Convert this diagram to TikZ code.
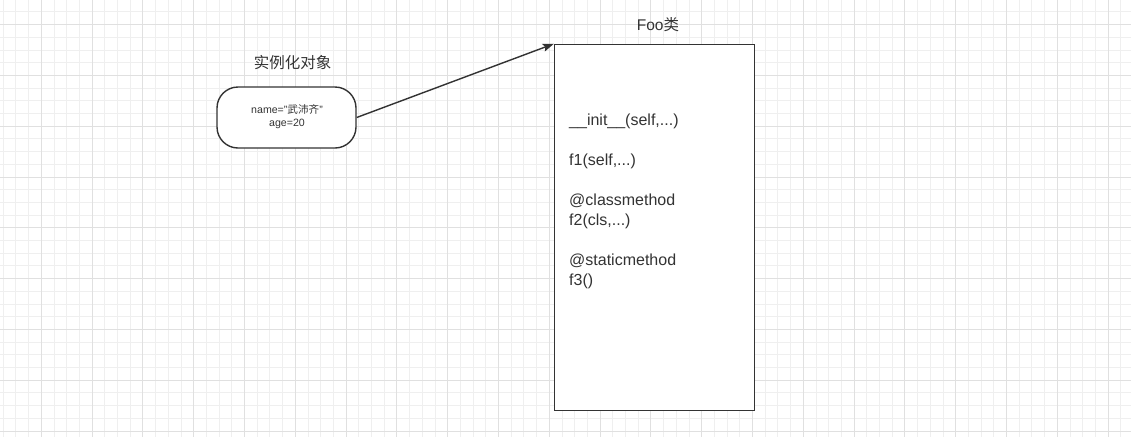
\documentclass[tikz,border=0pt]{standalone}
\usepackage{fontspec}
\setmainfont{Liberation Sans}
\newfontfamily\cjk{Noto Sans CJK SC}
\usetikzlibrary{arrows.meta}
\definecolor{minorgrid}{HTML}{EFEFEF}
\definecolor{majorgrid}{HTML}{E0E0E0}
\definecolor{ink}{HTML}{333333}
\tikzset{
  minorline/.style={draw=minorgrid, line width=1pt},
  majorline/.style={draw=majorgrid, line width=1pt},
  shapeline/.style={draw=ink, line width=1.4pt, fill=white},
  bigtext/.style={font=\fontsize{15.5}{18}\selectfont, text=ink, inner sep=0pt},
  smalltext/.style={font=\fontsize{10.6}{13}\selectfont, text=ink, align=center, inner sep=0pt},
  methodtext/.style={font=\fontsize{16}{18}\selectfont, text=ink, inner sep=0pt, anchor=base west},
  connector/.style={draw=ink, line width=1.4pt, -{Stealth[length=11pt, width=8pt, inset=2pt]}}
}
\begin{document}
\begin{tikzpicture}[x=1pt, y=-1pt]
\useasboundingbox (0,0) rectangle (1131,437);
\fill[white] (0,0) rectangle (1131,437);
% grid
\foreach \i in {0,...,88} \draw[minorline] ({3.2+12.7*\i},0) -- ++(0,437);
\foreach \j in {0,...,33} \draw[minorline] (0,{11.9+12.7*\j}) -- ++(1131,0);
\foreach \i in {0,...,21} \draw[majorline] ({41.3+50.8*\i},0) -- ++(0,437);
\foreach \j in {0,...,8} \draw[majorline] (0,{24.6+50.8*\j}) -- ++(1131,0);
% instance object
\node[shapeline, rounded corners=21pt, minimum width=139pt, minimum height=61pt] (inst) at (286.5,117.5) {};
\node[smalltext] (insttext) at (287,117) {name="{\cjk 武沛齐}"\\age=20};
\node[bigtext] (insttitle) at (292.5,63) {\cjk 实例化对象};
% class box
\node[shapeline, minimum width=200pt, minimum height=366pt] (cls) at (654.5,227.5) {};
\node[bigtext] (clstitle) at (658,24.5) {Foo{\cjk 类}};
\node[methodtext] (m1) at (569,125.5) {\_\_init\_\_(self,...)};
\node[methodtext] (m2) at (569,165.5) {f1(self,...)};
\node[methodtext] (m3) at (569,205.5) {@classmethod};
\node[methodtext] (m4) at (569,225.5) {f2(cls,...)};
\node[methodtext] (m5) at (569,265.5) {@staticmethod};
\node[methodtext] (m6) at (569,285.5) {f3()};
% connector
\draw[connector] (inst.east) -- (cls.north west);
\end{tikzpicture}
\end{document}
